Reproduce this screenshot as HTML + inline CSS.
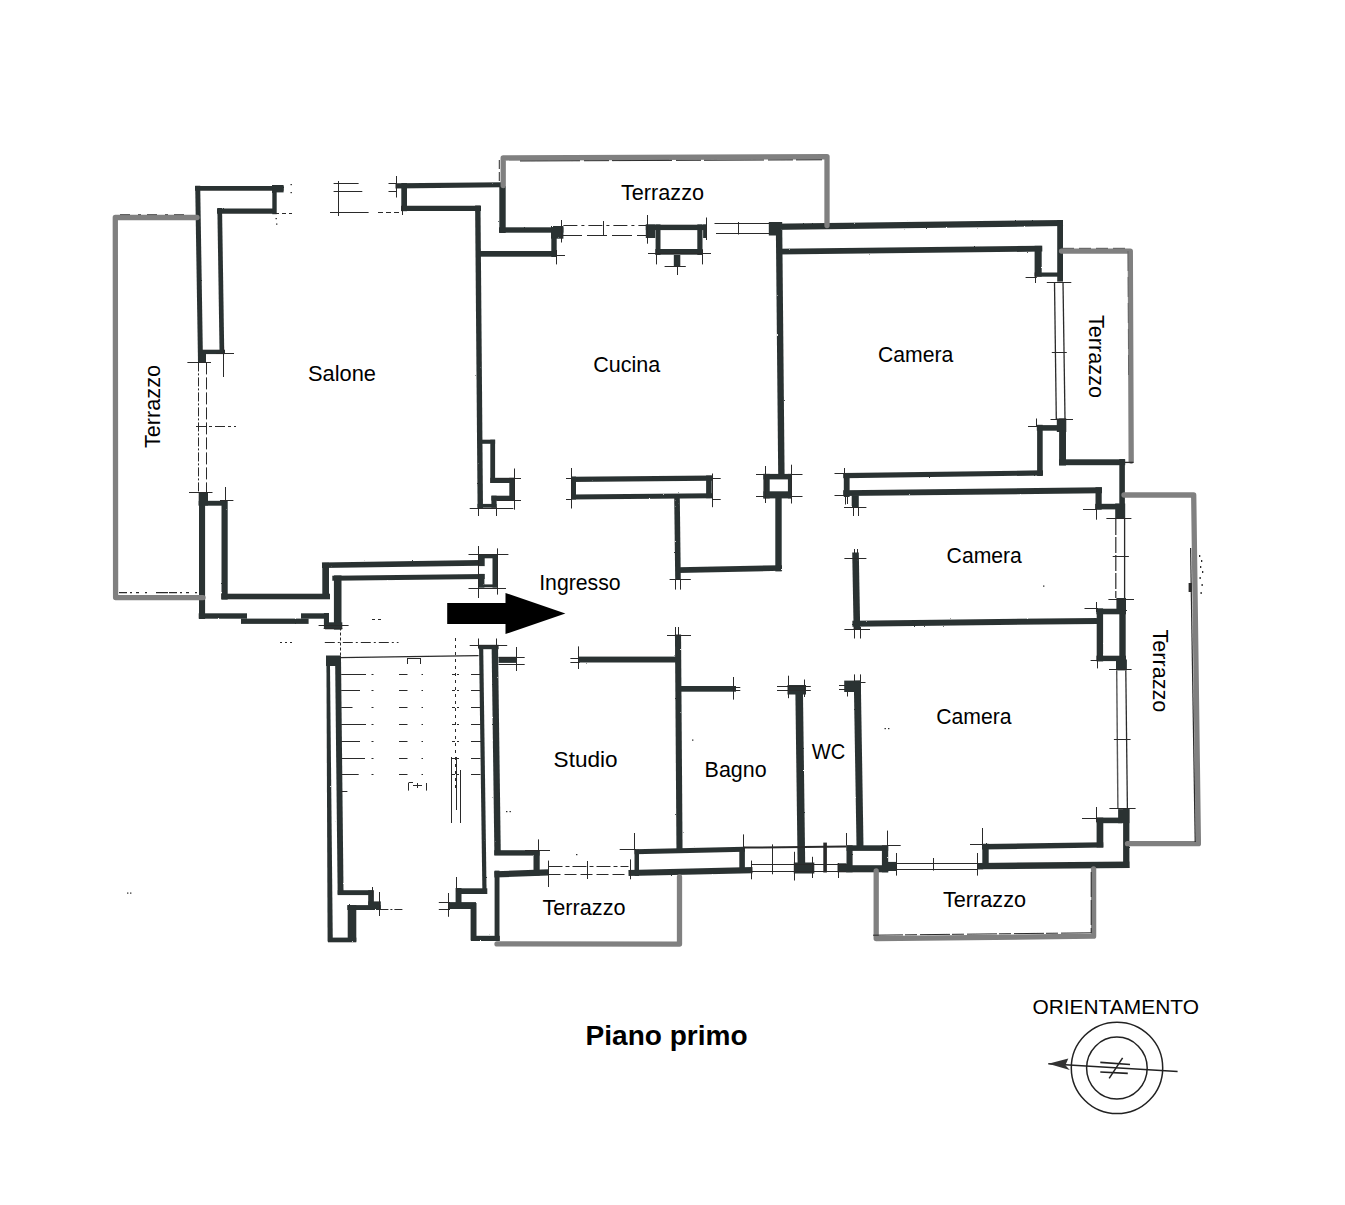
<!DOCTYPE html>
<html><head><meta charset="utf-8"><title>Piano primo</title>
<style>
html,body{margin:0;padding:0;background:#fff;}
body{width:1345px;height:1205px;overflow:hidden;}
svg{display:block;}
text{font-family:"Liberation Sans",sans-serif;fill:#000;}
</style></head><body>
<svg width="1345" height="1205" viewBox="0 0 1345 1205">
<defs>
<filter id="rough" x="0" y="0" width="100%" height="100%" filterUnits="userSpaceOnUse" primitiveUnits="userSpaceOnUse">
<feTurbulence type="fractalNoise" baseFrequency="0.35" numOctaves="2" seed="7" result="n"/>
<feDisplacementMap in="SourceGraphic" in2="n" scale="1.6" xChannelSelector="R" yChannelSelector="G"/>
</filter>
<filter id="rough2" x="0" y="0" width="100%" height="100%" filterUnits="userSpaceOnUse" primitiveUnits="userSpaceOnUse">
<feTurbulence type="fractalNoise" baseFrequency="0.5" numOctaves="1" seed="3" result="n"/>
<feDisplacementMap in="SourceGraphic" in2="n" scale="0.9" xChannelSelector="R" yChannelSelector="G"/>
</filter>
</defs>
<rect width="1345" height="1205" fill="#fff"/>
<g filter="url(#rough)">
<line x1="195.0" y1="188.4" x2="283.6" y2="188.4" stroke="#2c3333" stroke-width="4.9"/>
<line x1="197.7" y1="185.7" x2="200.5" y2="362.0" stroke="#2c3333" stroke-width="5.0"/>
<line x1="217.0" y1="211.1" x2="275.0" y2="211.1" stroke="#2c3333" stroke-width="5.4"/>
<line x1="219.7" y1="208.0" x2="221.9" y2="352.0" stroke="#2c3333" stroke-width="4.7"/>
<rect x="272.3" y="185.7" width="4.4" height="28.5" fill="#2c3333"/>
<rect x="272.0" y="185.0" width="11.6" height="7.4" fill="#2c3333"/>
<rect x="199.0" y="349.7" width="26.0" height="4.4" fill="#2c3333"/>
<rect x="198.0" y="350.0" width="8.0" height="12.4" fill="#2c3333"/>
<line x1="395.5" y1="185.9" x2="502.0" y2="184.8" stroke="#2c3333" stroke-width="5.1000000000000005"/>
<rect x="401.3" y="183.0" width="5.7" height="28.2" fill="#2c3333"/>
<line x1="401.0" y1="208.4" x2="481.0" y2="208.4" stroke="#2c3333" stroke-width="5.1000000000000005"/>
<line x1="477.8" y1="205.5" x2="480.3" y2="508.0" stroke="#2c3333" stroke-width="5.4"/>
<rect x="499.3" y="186.0" width="6.4" height="47.0" fill="#2c3333"/>
<rect x="499.0" y="227.3" width="64.4" height="5.4" fill="#2c3333"/>
<rect x="551.0" y="226.0" width="12.4" height="12.7" fill="#2c3333"/>
<rect x="551.3" y="226.0" width="5.4" height="31.0" fill="#2c3333"/>
<rect x="479.0" y="251.0" width="78.0" height="5.7" fill="#2c3333"/>
<rect x="645.8" y="224.7" width="61.2" height="5.4" fill="#2c3333"/>
<rect x="645.8" y="224.4" width="9.5" height="13.6" fill="#2c3333"/>
<rect x="703.1" y="224.4" width="3.6" height="13.6" fill="#2c3333"/>
<rect x="655.6" y="224.4" width="4.9" height="30.6" fill="#2c3333"/>
<rect x="697.3" y="224.4" width="5.2" height="30.6" fill="#2c3333"/>
<rect x="655.3" y="249.0" width="47.5" height="5.7" fill="#2c3333"/>
<rect x="673.8" y="255.0" width="6.5" height="11.0" fill="#2c3333"/>
<rect x="768.8" y="222.0" width="12.8" height="13.5" fill="#2c3333"/>
<line x1="779.0" y1="222.0" x2="781.4" y2="475.0" stroke="#2c3333" stroke-width="6.4"/>
<line x1="769.5" y1="226.9" x2="1063.0" y2="223.0" stroke="#2c3333" stroke-width="6.2"/>
<line x1="777.0" y1="251.6" x2="1042.3" y2="248.7" stroke="#2c3333" stroke-width="5.8"/>
<rect x="1057.2" y="220.0" width="5.8" height="61.6" fill="#2c3333"/>
<rect x="1034.6" y="245.8" width="7.1" height="30.9" fill="#2c3333"/>
<rect x="1034.6" y="272.5" width="28.4" height="4.2" fill="#2c3333"/>
<rect x="1056.8" y="418.5" width="9.5" height="13.5" fill="#2c3333"/>
<rect x="1036.8" y="425.1" width="21.2" height="5.6" fill="#2c3333"/>
<rect x="1037.1" y="424.8" width="5.6" height="51.2" fill="#2c3333"/>
<rect x="1059.1" y="418.5" width="6.9" height="47.0" fill="#2c3333"/>
<rect x="1059.0" y="459.3" width="66.2" height="5.9" fill="#2c3333"/>
<rect x="1119.3" y="459.0" width="5.6" height="60.0" fill="#2c3333"/>
<rect x="1115.2" y="503.5" width="10.0" height="15.5" fill="#2c3333"/>
<line x1="843.2" y1="475.7" x2="1043.0" y2="472.9" stroke="#2c3333" stroke-width="5.2"/>
<line x1="843.2" y1="493.1" x2="1102.0" y2="490.3" stroke="#2c3333" stroke-width="5.9"/>
<rect x="843.8" y="473.0" width="5.8" height="24.0" fill="#2c3333"/>
<rect x="851.7" y="495.2" width="7.1" height="12.6" fill="#2c3333"/>
<rect x="1095.5" y="487.2" width="6.2" height="22.5" fill="#2c3333"/>
<rect x="1095.2" y="503.8" width="23.8" height="5.6" fill="#2c3333"/>
<rect x="1116.4" y="598.0" width="9.6" height="15.4" fill="#2c3333"/>
<rect x="1096.4" y="608.7" width="29.6" height="5.6" fill="#2c3333"/>
<rect x="1096.4" y="655.7" width="29.6" height="5.4" fill="#2c3333"/>
<rect x="1096.7" y="608.4" width="6.4" height="53.0" fill="#2c3333"/>
<rect x="1119.3" y="608.4" width="6.4" height="53.0" fill="#2c3333"/>
<rect x="1116.0" y="659.5" width="10.9" height="10.9" fill="#2c3333"/>
<line x1="852.4" y1="623.8" x2="1097.0" y2="620.9" stroke="#2c3333" stroke-width="6"/>
<line x1="855.5" y1="552.5" x2="856.9" y2="629.0" stroke="#2c3333" stroke-width="6.6"/>
<rect x="1118.1" y="809.1" width="11.3" height="14.1" fill="#2c3333"/>
<rect x="1096.6" y="817.6" width="25.4" height="5.6" fill="#2c3333"/>
<rect x="1096.6" y="817.6" width="6.7" height="29.9" fill="#2c3333"/>
<line x1="982.0" y1="846.8" x2="1103.3" y2="844.9" stroke="#2c3333" stroke-width="5.4"/>
<rect x="1123.1" y="809.0" width="6.3" height="59.0" fill="#2c3333"/>
<line x1="977.5" y1="866.1" x2="1129.4" y2="864.8" stroke="#2c3333" stroke-width="6.4"/>
<rect x="982.3" y="843.8" width="6.4" height="25.0" fill="#2c3333"/>
<rect x="977.0" y="863.0" width="6.2" height="6.3" fill="#2c3333"/>
<line x1="857.3" y1="680.6" x2="860.0" y2="846.0" stroke="#2c3333" stroke-width="7"/>
<rect x="844.2" y="680.6" width="16.8" height="11.4" fill="#2c3333"/>
<rect x="846.5" y="845.3" width="41.7" height="5.6" fill="#2c3333"/>
<rect x="846.5" y="865.2" width="41.7" height="7.1" fill="#2c3333"/>
<rect x="846.5" y="845.3" width="6.1" height="27.0" fill="#2c3333"/>
<rect x="881.9" y="845.3" width="6.3" height="27.0" fill="#2c3333"/>
<rect x="837.5" y="863.3" width="9.5" height="9.0" fill="#2c3333"/>
<rect x="888.0" y="861.9" width="8.9" height="9.1" fill="#2c3333"/>
<line x1="799.1" y1="687.0" x2="801.5" y2="872.0" stroke="#2c3333" stroke-width="7.6"/>
<rect x="787.5" y="685.0" width="18.5" height="9.5" fill="#2c3333"/>
<rect x="793.8" y="862.5" width="20.5" height="11.0" fill="#2c3333"/>
<line x1="634.5" y1="851.7" x2="744.9" y2="849.2" stroke="#2c3333" stroke-width="4.9"/>
<line x1="628.5" y1="873.0" x2="752.5" y2="870.2" stroke="#2c3333" stroke-width="6.2"/>
<rect x="634.5" y="849.5" width="4.5" height="26.5" fill="#2c3333"/>
<rect x="739.3" y="847.0" width="5.6" height="26.0" fill="#2c3333"/>
<line x1="678.0" y1="634.6" x2="679.5" y2="849.4" stroke="#2c3333" stroke-width="6.1000000000000005"/>
<rect x="681.0" y="686.0" width="55.0" height="5.7" fill="#2c3333"/>
<rect x="578.4" y="656.6" width="97.6" height="5.9" fill="#2c3333"/>
<line x1="571.0" y1="479.3" x2="712.0" y2="478.1" stroke="#2c3333" stroke-width="5.2"/>
<line x1="571.0" y1="497.0" x2="712.0" y2="495.7" stroke="#2c3333" stroke-width="4.9"/>
<rect x="571.0" y="476.6" width="5.0" height="22.9" fill="#2c3333"/>
<rect x="706.1" y="475.5" width="5.6" height="22.7" fill="#2c3333"/>
<line x1="677.0" y1="497.0" x2="678.0" y2="579.6" stroke="#2c3333" stroke-width="5.6"/>
<line x1="678.0" y1="570.1" x2="782.0" y2="568.0" stroke="#2c3333" stroke-width="5.6000000000000005"/>
<rect x="775.3" y="497.2" width="6.4" height="74.2" fill="#2c3333"/>
<rect x="763.4" y="473.9" width="28.4" height="5.5" fill="#2c3333"/>
<rect x="763.4" y="491.3" width="28.4" height="7.1" fill="#2c3333"/>
<rect x="763.4" y="473.9" width="6.3" height="24.5" fill="#2c3333"/>
<rect x="787.9" y="473.9" width="3.9" height="24.5" fill="#2c3333"/>
<rect x="477.5" y="439.7" width="17.6" height="4.1" fill="#2c3333"/>
<rect x="490.3" y="439.7" width="4.8" height="43.3" fill="#2c3333"/>
<rect x="490.3" y="477.8" width="24.6" height="5.2" fill="#2c3333"/>
<rect x="509.3" y="477.8" width="5.6" height="22.8" fill="#2c3333"/>
<rect x="491.4" y="495.7" width="23.5" height="4.9" fill="#2c3333"/>
<rect x="491.4" y="495.7" width="5.2" height="12.0" fill="#2c3333"/>
<rect x="477.5" y="503.9" width="19.1" height="3.8" fill="#2c3333"/>
<rect x="199.0" y="492.2" width="6.1" height="126.8" fill="#2c3333"/>
<rect x="198.7" y="492.2" width="9.3" height="13.3" fill="#2c3333"/>
<rect x="198.7" y="500.8" width="27.5" height="4.9" fill="#2c3333"/>
<rect x="221.5" y="500.5" width="6.2" height="99.1" fill="#2c3333"/>
<rect x="221.2" y="593.7" width="108.8" height="5.6" fill="#2c3333"/>
<rect x="198.7" y="613.3" width="48.3" height="5.4" fill="#2c3333"/>
<rect x="241.0" y="618.6" width="67.6" height="5.3" fill="#2c3333"/>
<rect x="301.0" y="613.3" width="27.6" height="5.4" fill="#2c3333"/>
<rect x="323.9" y="613.0" width="5.1" height="15.4" fill="#2c3333"/>
<rect x="322.3" y="562.7" width="6.7" height="36.3" fill="#2c3333"/>
<line x1="322.0" y1="565.3" x2="479.7" y2="562.9" stroke="#2c3333" stroke-width="5.6000000000000005"/>
<line x1="332.3" y1="578.2" x2="484.7" y2="576.6" stroke="#2c3333" stroke-width="5.0"/>
<rect x="333.9" y="575.4" width="7.6" height="54.2" fill="#2c3333"/>
<rect x="324.8" y="622.3" width="17.5" height="7.0" fill="#2c3333"/>
<rect x="478.0" y="554.5" width="19.6" height="3.8" fill="#2c3333"/>
<rect x="478.0" y="584.4" width="19.6" height="2.9" fill="#2c3333"/>
<rect x="492.5" y="554.2" width="4.8" height="33.4" fill="#2c3333"/>
<rect x="478.0" y="554.2" width="6.7" height="11.9" fill="#2c3333"/>
<rect x="478.3" y="573.9" width="6.1" height="13.7" fill="#2c3333"/>
<polygon points="326.4,656.0 329.9,656.0 332.8,941.5 327.6,941.5" fill="#2c3333"/>
<line x1="338.1" y1="662.0" x2="340.6" y2="894.5" stroke="#2c3333" stroke-width="5.9"/>
<rect x="326.0" y="655.5" width="15.0" height="10.5" fill="#2c3333"/>
<rect x="337.7" y="890.2" width="34.7" height="4.9" fill="#2c3333"/>
<rect x="368.2" y="890.2" width="5.7" height="14.8" fill="#2c3333"/>
<rect x="368.2" y="901.4" width="12.6" height="8.6" fill="#2c3333"/>
<rect x="347.3" y="905.1" width="33.5" height="4.9" fill="#2c3333"/>
<rect x="347.7" y="905.1" width="8.6" height="36.4" fill="#2c3333"/>
<rect x="328.0" y="937.6" width="28.3" height="4.7" fill="#2c3333"/>
<line x1="481.1" y1="645.0" x2="484.5" y2="893.0" stroke="#2c3333" stroke-width="4.2"/>
<line x1="494.8" y1="645.0" x2="497.6" y2="855.0" stroke="#2c3333" stroke-width="6.4"/>
<rect x="478.6" y="644.8" width="20.0" height="4.4" fill="#2c3333"/>
<rect x="498.6" y="656.8" width="17.4" height="6.1" fill="#2c3333"/>
<rect x="494.3" y="850.2" width="45.3" height="5.4" fill="#2c3333"/>
<rect x="533.5" y="850.2" width="6.2" height="25.4" fill="#2c3333"/>
<line x1="494.3" y1="874.4" x2="548.5" y2="872.4" stroke="#2c3333" stroke-width="6.2"/>
<rect x="494.6" y="870.6" width="4.9" height="69.9" fill="#2c3333"/>
<rect x="456.0" y="888.3" width="31.3" height="5.7" fill="#2c3333"/>
<rect x="455.6" y="888.0" width="5.9" height="17.0" fill="#2c3333"/>
<rect x="448.6" y="902.1" width="27.4" height="6.9" fill="#2c3333"/>
<rect x="470.6" y="903.0" width="5.9" height="37.5" fill="#2c3333"/>
<rect x="471.0" y="935.8" width="28.8" height="5.2" fill="#2c3333"/>
</g>
<polyline points="197.0,217.5 115.3,217.5 115.6,597.6 203.0,597.6" fill="none" stroke="#808080" stroke-width="5.3" stroke-linejoin="round" stroke-linecap="round"/>
<polyline points="503.2,185.5 503.2,158.0 827.0,156.6 827.0,225.5" fill="none" stroke="#808080" stroke-width="5.3" stroke-linejoin="round" stroke-linecap="round"/>
<polyline points="1061.5,251.1 1130.3,251.1 1131.2,461.0" fill="none" stroke="#808080" stroke-width="5.3" stroke-linejoin="round" stroke-linecap="round"/>
<polyline points="1124.0,495.0 1193.7,495.0 1198.4,843.7 1127.5,843.7" fill="none" stroke="#808080" stroke-width="5.3" stroke-linejoin="round" stroke-linecap="round"/>
<polyline points="876.2,871.0 876.2,938.6 1093.6,936.2 1093.6,869.0" fill="none" stroke="#808080" stroke-width="5.3" stroke-linejoin="round" stroke-linecap="round"/>
<polyline points="497.0,943.9 679.5,944.1 679.5,877.0" fill="none" stroke="#808080" stroke-width="5.3" stroke-linejoin="round" stroke-linecap="round"/>
<polygon points="447.2,603.0 505.5,603.0 505.5,593.0 565.4,613.4 505.5,634.0 505.5,624.0 447.2,624.0" fill="#000"/>
<g filter="url(#rough2)">
<line x1="187.4" y1="362.5" x2="211.0" y2="362.5" stroke="#2a2a2a" stroke-width="1"/>
<line x1="223.5" y1="345.0" x2="223.5" y2="377.0" stroke="#2a2a2a" stroke-width="1"/>
<line x1="216.0" y1="353.5" x2="234.0" y2="353.5" stroke="#2a2a2a" stroke-width="1"/>
<line x1="275.0" y1="213.5" x2="292.0" y2="213.5" stroke="#2a2a2a" stroke-width="1" stroke-dasharray="4 3"/>
<line x1="198.5" y1="362.4" x2="198.5" y2="492.0" stroke="#2a2a2a" stroke-width="1" stroke-dasharray="9 2 2 2"/>
<line x1="206.5" y1="362.4" x2="206.5" y2="492.0" stroke="#2a2a2a" stroke-width="1" stroke-dasharray="12 3"/>
<line x1="196.0" y1="426.5" x2="236.0" y2="426.5" stroke="#2a2a2a" stroke-width="1" stroke-dasharray="10 3 3 3"/>
<line x1="333.6" y1="183.5" x2="358.6" y2="183.5" stroke="#2a2a2a" stroke-width="1"/>
<line x1="333.6" y1="191.5" x2="362.3" y2="191.5" stroke="#2a2a2a" stroke-width="1"/>
<line x1="330.0" y1="212.5" x2="368.6" y2="212.5" stroke="#2a2a2a" stroke-width="1"/>
<line x1="338.5" y1="181.0" x2="338.5" y2="216.0" stroke="#2a2a2a" stroke-width="1"/>
<line x1="396.5" y1="176.0" x2="396.5" y2="197.5" stroke="#2a2a2a" stroke-width="1"/>
<line x1="388.5" y1="183.5" x2="397.0" y2="183.5" stroke="#2a2a2a" stroke-width="1"/>
<line x1="388.5" y1="191.5" x2="397.0" y2="191.5" stroke="#2a2a2a" stroke-width="1"/>
<line x1="402.5" y1="205.0" x2="402.5" y2="215.0" stroke="#2a2a2a" stroke-width="1"/>
<line x1="378.0" y1="212.5" x2="401.0" y2="212.5" stroke="#2a2a2a" stroke-width="1" stroke-dasharray="5 3"/>
<line x1="563.4" y1="225.5" x2="646.0" y2="225.5" stroke="#2a2a2a" stroke-width="1" stroke-dasharray="14 4 3 4"/>
<line x1="562.0" y1="235.5" x2="646.0" y2="235.5" stroke="#2a2a2a" stroke-width="1" stroke-dasharray="20 5"/>
<line x1="603.5" y1="221.0" x2="603.5" y2="235.0" stroke="#2a2a2a" stroke-width="1"/>
<line x1="561.5" y1="220.0" x2="561.5" y2="242.5" stroke="#2a2a2a" stroke-width="1"/>
<line x1="556.5" y1="250.0" x2="556.5" y2="264.4" stroke="#2a2a2a" stroke-width="1"/>
<line x1="557.0" y1="255.5" x2="565.0" y2="255.5" stroke="#2a2a2a" stroke-width="1"/>
<line x1="648.0" y1="253.5" x2="711.0" y2="253.5" stroke="#2a2a2a" stroke-width="1"/>
<line x1="647.5" y1="215.0" x2="647.5" y2="243.7" stroke="#2a2a2a" stroke-width="1"/>
<line x1="706.5" y1="217.5" x2="706.5" y2="240.0" stroke="#2a2a2a" stroke-width="1"/>
<line x1="656.5" y1="250.0" x2="656.5" y2="264.4" stroke="#2a2a2a" stroke-width="1"/>
<line x1="702.5" y1="250.0" x2="702.5" y2="264.4" stroke="#2a2a2a" stroke-width="1"/>
<line x1="664.6" y1="266.5" x2="685.8" y2="266.5" stroke="#2a2a2a" stroke-width="1"/>
<line x1="677.5" y1="266.0" x2="677.5" y2="275.0" stroke="#2a2a2a" stroke-width="1"/>
<line x1="714.5" y1="223.5" x2="769.5" y2="223.5" stroke="#2a2a2a" stroke-width="1"/>
<line x1="716.0" y1="233.5" x2="769.5" y2="233.5" stroke="#2a2a2a" stroke-width="1"/>
<line x1="738.5" y1="222.0" x2="738.5" y2="234.5" stroke="#2a2a2a" stroke-width="1"/>
<line x1="1025.6" y1="277.5" x2="1036.8" y2="277.5" stroke="#2a2a2a" stroke-width="1"/>
<line x1="1035.5" y1="272.0" x2="1035.5" y2="283.0" stroke="#2a2a2a" stroke-width="1"/>
<line x1="1046.8" y1="282.5" x2="1071.3" y2="282.5" stroke="#2a2a2a" stroke-width="1"/>
<line x1="1054.5" y1="282.0" x2="1056.3" y2="419.0" stroke="#2a2a2a" stroke-width="1.3"/>
<line x1="1063.0" y1="282.0" x2="1065.0" y2="419.0" stroke="#2a2a2a" stroke-width="1.3"/>
<line x1="1051.8" y1="352.5" x2="1066.8" y2="352.5" stroke="#2a2a2a" stroke-width="1"/>
<line x1="1050.5" y1="419.5" x2="1073.0" y2="419.5" stroke="#2a2a2a" stroke-width="1"/>
<line x1="1028.0" y1="426.5" x2="1038.0" y2="426.5" stroke="#2a2a2a" stroke-width="1"/>
<line x1="1036.5" y1="418.5" x2="1036.5" y2="427.0" stroke="#2a2a2a" stroke-width="1"/>
<line x1="844.0" y1="507.5" x2="866.4" y2="507.5" stroke="#2a2a2a" stroke-width="1"/>
<line x1="853.5" y1="507.0" x2="853.5" y2="516.0" stroke="#2a2a2a" stroke-width="1"/>
<line x1="858.5" y1="507.0" x2="858.5" y2="516.0" stroke="#2a2a2a" stroke-width="1"/>
<line x1="845.5" y1="497.0" x2="845.5" y2="504.5" stroke="#2a2a2a" stroke-width="1"/>
<line x1="847.5" y1="497.0" x2="847.5" y2="504.0" stroke="#2a2a2a" stroke-width="1"/>
<line x1="834.5" y1="473.5" x2="846.0" y2="473.5" stroke="#2a2a2a" stroke-width="1"/>
<line x1="834.5" y1="495.5" x2="846.0" y2="495.5" stroke="#2a2a2a" stroke-width="1"/>
<line x1="844.5" y1="468.0" x2="844.5" y2="480.0" stroke="#2a2a2a" stroke-width="1"/>
<line x1="1083.0" y1="509.5" x2="1097.0" y2="509.5" stroke="#2a2a2a" stroke-width="1"/>
<line x1="1096.5" y1="508.5" x2="1096.5" y2="519.7" stroke="#2a2a2a" stroke-width="1"/>
<line x1="1106.4" y1="518.5" x2="1131.4" y2="518.5" stroke="#2a2a2a" stroke-width="1"/>
<line x1="1115.8" y1="519.0" x2="1115.8" y2="598.0" stroke="#2a2a2a" stroke-width="1.2" stroke-dasharray="16 2"/>
<line x1="1124.6" y1="519.0" x2="1124.6" y2="598.0" stroke="#2a2a2a" stroke-width="1.3"/>
<line x1="1112.7" y1="556.5" x2="1128.9" y2="556.5" stroke="#2a2a2a" stroke-width="1"/>
<line x1="1108.4" y1="599.5" x2="1134.0" y2="599.5" stroke="#2a2a2a" stroke-width="1"/>
<line x1="1084.5" y1="608.5" x2="1098.0" y2="608.5" stroke="#2a2a2a" stroke-width="1"/>
<line x1="1096.5" y1="602.0" x2="1096.5" y2="612.0" stroke="#2a2a2a" stroke-width="1"/>
<line x1="1090.6" y1="660.5" x2="1098.0" y2="660.5" stroke="#2a2a2a" stroke-width="1"/>
<line x1="1097.5" y1="655.0" x2="1097.5" y2="668.4" stroke="#2a2a2a" stroke-width="1"/>
<line x1="1109.0" y1="669.5" x2="1131.6" y2="669.5" stroke="#2a2a2a" stroke-width="1"/>
<line x1="1116.7" y1="670.4" x2="1117.9" y2="808.9" stroke="#555" stroke-width="1.4"/>
<line x1="1125.8" y1="670.4" x2="1127.4" y2="808.9" stroke="#2a2a2a" stroke-width="1.3"/>
<line x1="1113.9" y1="739.5" x2="1130.6" y2="739.5" stroke="#2a2a2a" stroke-width="1"/>
<line x1="1109.4" y1="808.5" x2="1135.6" y2="808.5" stroke="#2a2a2a" stroke-width="1"/>
<line x1="1096.5" y1="807.0" x2="1096.5" y2="822.0" stroke="#2a2a2a" stroke-width="1"/>
<line x1="1082.0" y1="818.5" x2="1098.0" y2="818.5" stroke="#2a2a2a" stroke-width="1"/>
<line x1="844.4" y1="558.5" x2="866.4" y2="558.5" stroke="#2a2a2a" stroke-width="1"/>
<line x1="854.5" y1="549.0" x2="854.5" y2="553.0" stroke="#2a2a2a" stroke-width="1"/>
<line x1="857.5" y1="549.0" x2="857.5" y2="553.0" stroke="#2a2a2a" stroke-width="1"/>
<line x1="844.4" y1="629.5" x2="870.0" y2="629.5" stroke="#2a2a2a" stroke-width="1"/>
<line x1="854.5" y1="627.0" x2="854.5" y2="638.5" stroke="#2a2a2a" stroke-width="1"/>
<line x1="860.5" y1="627.0" x2="860.5" y2="638.5" stroke="#2a2a2a" stroke-width="1"/>
<line x1="982.5" y1="828.0" x2="982.5" y2="845.6" stroke="#2a2a2a" stroke-width="1"/>
<line x1="970.0" y1="844.5" x2="983.2" y2="844.5" stroke="#2a2a2a" stroke-width="1"/>
<line x1="977.5" y1="853.0" x2="977.5" y2="875.6" stroke="#2a2a2a" stroke-width="1"/>
<line x1="897.0" y1="863.5" x2="977.5" y2="863.5" stroke="#2a2a2a" stroke-width="1"/>
<line x1="897.0" y1="869.5" x2="977.5" y2="869.5" stroke="#2a2a2a" stroke-width="1"/>
<line x1="933.5" y1="858.0" x2="933.5" y2="870.6" stroke="#2a2a2a" stroke-width="1"/>
<line x1="846.5" y1="833.0" x2="846.5" y2="845.6" stroke="#2a2a2a" stroke-width="1"/>
<line x1="887.5" y1="830.6" x2="887.5" y2="845.6" stroke="#2a2a2a" stroke-width="1"/>
<line x1="887.0" y1="845.5" x2="900.7" y2="845.5" stroke="#2a2a2a" stroke-width="1"/>
<line x1="838.5" y1="863.0" x2="838.5" y2="878.0" stroke="#2a2a2a" stroke-width="1"/>
<line x1="896.5" y1="853.0" x2="896.5" y2="875.6" stroke="#2a2a2a" stroke-width="1"/>
<line x1="743.7" y1="847.6" x2="846.5" y2="846.6" stroke="#2a2a2a" stroke-width="2"/>
<line x1="751.0" y1="864.5" x2="846.0" y2="864.5" stroke="#2a2a2a" stroke-width="1"/>
<line x1="751.0" y1="871.5" x2="846.0" y2="871.5" stroke="#2a2a2a" stroke-width="1"/>
<line x1="772.5" y1="844.4" x2="772.5" y2="874.3" stroke="#2a2a2a" stroke-width="1"/>
<rect x="823.3" y="842.6" width="3.6" height="29.9" fill="#2a2a2a"/>
<line x1="794.5" y1="851.8" x2="794.5" y2="880.5" stroke="#2a2a2a" stroke-width="1"/>
<line x1="812.5" y1="856.8" x2="812.5" y2="878.0" stroke="#2a2a2a" stroke-width="1"/>
<line x1="777.0" y1="686.5" x2="810.8" y2="686.5" stroke="#2a2a2a" stroke-width="1"/>
<line x1="777.0" y1="690.5" x2="810.8" y2="690.5" stroke="#2a2a2a" stroke-width="1"/>
<line x1="788.5" y1="675.7" x2="788.5" y2="698.2" stroke="#2a2a2a" stroke-width="1"/>
<line x1="804.5" y1="679.5" x2="804.5" y2="697.0" stroke="#2a2a2a" stroke-width="1"/>
<line x1="839.0" y1="685.5" x2="845.0" y2="685.5" stroke="#2a2a2a" stroke-width="1"/>
<line x1="839.0" y1="689.5" x2="845.0" y2="689.5" stroke="#2a2a2a" stroke-width="1"/>
<line x1="854.5" y1="674.4" x2="854.5" y2="681.0" stroke="#2a2a2a" stroke-width="1"/>
<line x1="860.5" y1="674.4" x2="860.5" y2="681.0" stroke="#2a2a2a" stroke-width="1"/>
<line x1="861.0" y1="682.5" x2="865.5" y2="682.5" stroke="#2a2a2a" stroke-width="1"/>
<line x1="847.5" y1="692.0" x2="847.5" y2="696.5" stroke="#2a2a2a" stroke-width="1"/>
<line x1="634.5" y1="833.0" x2="634.5" y2="849.0" stroke="#2a2a2a" stroke-width="1"/>
<line x1="619.7" y1="849.5" x2="636.0" y2="849.5" stroke="#2a2a2a" stroke-width="1"/>
<line x1="630.5" y1="859.4" x2="630.5" y2="879.3" stroke="#2a2a2a" stroke-width="1"/>
<line x1="743.5" y1="834.4" x2="743.5" y2="849.4" stroke="#2a2a2a" stroke-width="1"/>
<line x1="751.5" y1="860.6" x2="751.5" y2="879.3" stroke="#2a2a2a" stroke-width="1"/>
<line x1="548.5" y1="866.5" x2="628.5" y2="866.5" stroke="#2a2a2a" stroke-width="1" stroke-dasharray="14 3 4 3"/>
<line x1="548.5" y1="874.5" x2="628.5" y2="874.5" stroke="#2a2a2a" stroke-width="1" stroke-dasharray="12 4"/>
<line x1="587.5" y1="861.0" x2="587.5" y2="879.0" stroke="#2a2a2a" stroke-width="1"/>
<line x1="538.5" y1="839.4" x2="538.5" y2="852.0" stroke="#2a2a2a" stroke-width="1"/>
<line x1="525.0" y1="850.5" x2="550.0" y2="850.5" stroke="#2a2a2a" stroke-width="1"/>
<line x1="548.5" y1="860.6" x2="548.5" y2="887.0" stroke="#2a2a2a" stroke-width="1"/>
<line x1="578.5" y1="646.4" x2="578.5" y2="669.0" stroke="#2a2a2a" stroke-width="1"/>
<line x1="570.4" y1="658.5" x2="579.7" y2="658.5" stroke="#2a2a2a" stroke-width="1"/>
<line x1="570.4" y1="662.5" x2="579.7" y2="662.5" stroke="#2a2a2a" stroke-width="1"/>
<line x1="675.5" y1="627.0" x2="675.5" y2="636.0" stroke="#2a2a2a" stroke-width="1"/>
<line x1="678.5" y1="627.0" x2="678.5" y2="636.0" stroke="#2a2a2a" stroke-width="1"/>
<line x1="667.0" y1="635.5" x2="691.0" y2="635.5" stroke="#2a2a2a" stroke-width="1"/>
<line x1="733.5" y1="677.0" x2="733.5" y2="699.6" stroke="#2a2a2a" stroke-width="1"/>
<line x1="733.5" y1="687.5" x2="740.3" y2="687.5" stroke="#2a2a2a" stroke-width="1"/>
<line x1="733.5" y1="690.5" x2="740.3" y2="690.5" stroke="#2a2a2a" stroke-width="1"/>
<line x1="571.5" y1="468.0" x2="571.5" y2="508.5" stroke="#2a2a2a" stroke-width="1"/>
<line x1="712.5" y1="473.5" x2="712.5" y2="507.2" stroke="#2a2a2a" stroke-width="1"/>
<line x1="566.0" y1="478.5" x2="572.0" y2="478.5" stroke="#2a2a2a" stroke-width="1"/>
<line x1="566.0" y1="499.5" x2="572.0" y2="499.5" stroke="#2a2a2a" stroke-width="1"/>
<line x1="712.0" y1="478.5" x2="720.7" y2="478.5" stroke="#2a2a2a" stroke-width="1"/>
<line x1="712.0" y1="499.5" x2="720.7" y2="499.5" stroke="#2a2a2a" stroke-width="1"/>
<line x1="675.5" y1="579.0" x2="675.5" y2="589.6" stroke="#2a2a2a" stroke-width="1"/>
<line x1="680.5" y1="579.0" x2="680.5" y2="589.6" stroke="#2a2a2a" stroke-width="1"/>
<line x1="669.6" y1="579.5" x2="690.8" y2="579.5" stroke="#2a2a2a" stroke-width="1"/>
<line x1="791.5" y1="464.7" x2="791.5" y2="503.5" stroke="#2a2a2a" stroke-width="1"/>
<line x1="792.0" y1="474.5" x2="802.5" y2="474.5" stroke="#2a2a2a" stroke-width="1"/>
<line x1="792.0" y1="496.5" x2="802.5" y2="496.5" stroke="#2a2a2a" stroke-width="1"/>
<line x1="765.5" y1="466.0" x2="765.5" y2="503.0" stroke="#2a2a2a" stroke-width="1"/>
<line x1="756.0" y1="474.5" x2="764.0" y2="474.5" stroke="#2a2a2a" stroke-width="1"/>
<line x1="756.0" y1="496.5" x2="764.0" y2="496.5" stroke="#2a2a2a" stroke-width="1"/>
<line x1="496.5" y1="478.5" x2="521.0" y2="478.5" stroke="#2a2a2a" stroke-width="1"/>
<line x1="496.5" y1="500.5" x2="521.0" y2="500.5" stroke="#2a2a2a" stroke-width="1"/>
<line x1="469.7" y1="508.5" x2="513.4" y2="508.5" stroke="#2a2a2a" stroke-width="1"/>
<line x1="514.5" y1="468.5" x2="514.5" y2="509.7" stroke="#2a2a2a" stroke-width="1"/>
<line x1="478.5" y1="507.2" x2="478.5" y2="516.0" stroke="#2a2a2a" stroke-width="1"/>
<line x1="496.5" y1="507.2" x2="496.5" y2="516.0" stroke="#2a2a2a" stroke-width="1"/>
<line x1="478.5" y1="546.0" x2="478.5" y2="598.0" stroke="#2a2a2a" stroke-width="1"/>
<line x1="497.5" y1="548.4" x2="497.5" y2="594.6" stroke="#2a2a2a" stroke-width="1"/>
<line x1="468.5" y1="554.5" x2="508.4" y2="554.5" stroke="#2a2a2a" stroke-width="1"/>
<line x1="468.5" y1="588.5" x2="506.0" y2="588.5" stroke="#2a2a2a" stroke-width="1"/>
<line x1="189.0" y1="492.5" x2="212.5" y2="492.5" stroke="#2a2a2a" stroke-width="1"/>
<line x1="225.5" y1="487.0" x2="225.5" y2="502.0" stroke="#2a2a2a" stroke-width="1"/>
<line x1="220.0" y1="500.5" x2="233.4" y2="500.5" stroke="#2a2a2a" stroke-width="1"/>
<line x1="318.6" y1="625.5" x2="348.6" y2="625.5" stroke="#2a2a2a" stroke-width="1"/>
<line x1="323.7" y1="628.5" x2="342.3" y2="628.5" stroke="#2a2a2a" stroke-width="1"/>
<line x1="469.7" y1="645.5" x2="507.2" y2="645.5" stroke="#2a2a2a" stroke-width="1"/>
<line x1="478.5" y1="638.5" x2="478.5" y2="648.4" stroke="#2a2a2a" stroke-width="1"/>
<line x1="496.5" y1="638.5" x2="496.5" y2="648.4" stroke="#2a2a2a" stroke-width="1"/>
<line x1="516.5" y1="647.0" x2="516.5" y2="671.0" stroke="#2a2a2a" stroke-width="1"/>
<line x1="498.5" y1="657.5" x2="524.7" y2="657.5" stroke="#2a2a2a" stroke-width="1"/>
<line x1="498.5" y1="664.5" x2="524.7" y2="664.5" stroke="#2a2a2a" stroke-width="1"/>
<line x1="340.0" y1="657.6" x2="478.6" y2="655.6" stroke="#2a2a2a" stroke-width="1.4"/>
<line x1="324.8" y1="642.5" x2="398.5" y2="642.5" stroke="#2a2a2a" stroke-width="1" stroke-dasharray="10 3 2 3"/>
<line x1="280.0" y1="642.5" x2="293.0" y2="642.5" stroke="#2a2a2a" stroke-width="1" stroke-dasharray="2 3"/>
<line x1="340.5" y1="627.5" x2="340.5" y2="659.0" stroke="#2a2a2a" stroke-width="1" stroke-dasharray="3 2"/>
<rect x="407.0" y="658.0" width="14.0" height="1.0" fill="#2a2a2a"/>
<rect x="407.0" y="658.0" width="1.0" height="6.0" fill="#2a2a2a"/>
<rect x="420.0" y="658.0" width="1.0" height="6.0" fill="#2a2a2a"/>
<line x1="372.0" y1="619.5" x2="382.0" y2="619.5" stroke="#2a2a2a" stroke-width="1" stroke-dasharray="3 3"/>
<line x1="341.2" y1="674.5" x2="366.0" y2="674.5" stroke="#2a2a2a" stroke-width="1"/>
<line x1="371.5" y1="674.5" x2="373.5" y2="674.5" stroke="#2a2a2a" stroke-width="1"/>
<line x1="399.0" y1="674.5" x2="407.5" y2="674.5" stroke="#2a2a2a" stroke-width="1"/>
<line x1="421.5" y1="674.5" x2="423.0" y2="674.5" stroke="#2a2a2a" stroke-width="1"/>
<line x1="452.0" y1="674.5" x2="459.0" y2="674.5" stroke="#2a2a2a" stroke-width="1" stroke-dasharray="3 2"/>
<line x1="471.0" y1="674.5" x2="480.5" y2="674.5" stroke="#2a2a2a" stroke-width="1"/>
<line x1="341.2" y1="690.5" x2="360.0" y2="690.5" stroke="#2a2a2a" stroke-width="1"/>
<line x1="371.5" y1="690.5" x2="373.5" y2="690.5" stroke="#2a2a2a" stroke-width="1"/>
<line x1="399.0" y1="690.5" x2="407.5" y2="690.5" stroke="#2a2a2a" stroke-width="1"/>
<line x1="421.5" y1="690.5" x2="423.0" y2="690.5" stroke="#2a2a2a" stroke-width="1"/>
<line x1="452.0" y1="690.5" x2="459.0" y2="690.5" stroke="#2a2a2a" stroke-width="1" stroke-dasharray="3 2"/>
<line x1="471.0" y1="690.5" x2="480.5" y2="690.5" stroke="#2a2a2a" stroke-width="1"/>
<line x1="341.2" y1="707.5" x2="352.5" y2="707.5" stroke="#2a2a2a" stroke-width="1"/>
<line x1="371.5" y1="707.5" x2="373.5" y2="707.5" stroke="#2a2a2a" stroke-width="1"/>
<line x1="399.0" y1="707.5" x2="407.5" y2="707.5" stroke="#2a2a2a" stroke-width="1"/>
<line x1="421.5" y1="707.5" x2="423.0" y2="707.5" stroke="#2a2a2a" stroke-width="1"/>
<line x1="452.0" y1="707.5" x2="459.0" y2="707.5" stroke="#2a2a2a" stroke-width="1" stroke-dasharray="3 2"/>
<line x1="471.0" y1="707.5" x2="480.5" y2="707.5" stroke="#2a2a2a" stroke-width="1"/>
<line x1="341.2" y1="724.5" x2="366.0" y2="724.5" stroke="#2a2a2a" stroke-width="1"/>
<line x1="371.5" y1="724.5" x2="373.5" y2="724.5" stroke="#2a2a2a" stroke-width="1"/>
<line x1="399.0" y1="724.5" x2="407.5" y2="724.5" stroke="#2a2a2a" stroke-width="1"/>
<line x1="421.5" y1="724.5" x2="423.0" y2="724.5" stroke="#2a2a2a" stroke-width="1"/>
<line x1="452.0" y1="724.5" x2="459.0" y2="724.5" stroke="#2a2a2a" stroke-width="1" stroke-dasharray="3 2"/>
<line x1="471.0" y1="724.5" x2="480.5" y2="724.5" stroke="#2a2a2a" stroke-width="1"/>
<line x1="341.2" y1="741.5" x2="360.0" y2="741.5" stroke="#2a2a2a" stroke-width="1"/>
<line x1="371.5" y1="741.5" x2="373.5" y2="741.5" stroke="#2a2a2a" stroke-width="1"/>
<line x1="399.0" y1="741.5" x2="407.5" y2="741.5" stroke="#2a2a2a" stroke-width="1"/>
<line x1="421.5" y1="741.5" x2="423.0" y2="741.5" stroke="#2a2a2a" stroke-width="1"/>
<line x1="452.0" y1="741.5" x2="459.0" y2="741.5" stroke="#2a2a2a" stroke-width="1" stroke-dasharray="3 2"/>
<line x1="471.0" y1="741.5" x2="480.5" y2="741.5" stroke="#2a2a2a" stroke-width="1"/>
<line x1="341.2" y1="758.5" x2="365.0" y2="758.5" stroke="#2a2a2a" stroke-width="1"/>
<line x1="371.5" y1="758.5" x2="373.5" y2="758.5" stroke="#2a2a2a" stroke-width="1"/>
<line x1="399.0" y1="758.5" x2="407.5" y2="758.5" stroke="#2a2a2a" stroke-width="1"/>
<line x1="421.5" y1="758.5" x2="423.0" y2="758.5" stroke="#2a2a2a" stroke-width="1"/>
<line x1="452.0" y1="758.5" x2="459.0" y2="758.5" stroke="#2a2a2a" stroke-width="1" stroke-dasharray="3 2"/>
<line x1="471.0" y1="758.5" x2="480.5" y2="758.5" stroke="#2a2a2a" stroke-width="1"/>
<line x1="341.2" y1="774.5" x2="358.7" y2="774.5" stroke="#2a2a2a" stroke-width="1"/>
<line x1="371.5" y1="774.5" x2="373.5" y2="774.5" stroke="#2a2a2a" stroke-width="1"/>
<line x1="399.0" y1="774.5" x2="407.5" y2="774.5" stroke="#2a2a2a" stroke-width="1"/>
<line x1="421.5" y1="774.5" x2="423.0" y2="774.5" stroke="#2a2a2a" stroke-width="1"/>
<line x1="452.0" y1="774.5" x2="459.0" y2="774.5" stroke="#2a2a2a" stroke-width="1" stroke-dasharray="3 2"/>
<line x1="471.0" y1="774.5" x2="480.5" y2="774.5" stroke="#2a2a2a" stroke-width="1"/>
<line x1="341.2" y1="791.5" x2="347.4" y2="791.5" stroke="#2a2a2a" stroke-width="1"/>
<line x1="455.5" y1="638.0" x2="455.5" y2="792.0" stroke="#2a2a2a" stroke-width="1" stroke-dasharray="3 4"/>
<line x1="451.5" y1="757.0" x2="451.5" y2="823.0" stroke="#2a2a2a" stroke-width="1"/>
<line x1="456.5" y1="757.0" x2="456.5" y2="810.0" stroke="#2a2a2a" stroke-width="1"/>
<line x1="460.5" y1="770.0" x2="460.5" y2="823.0" stroke="#2a2a2a" stroke-width="1"/>
<line x1="408.6" y1="782.5" x2="413.0" y2="782.5" stroke="#2a2a2a" stroke-width="1"/>
<line x1="408.5" y1="783.0" x2="408.5" y2="790.6" stroke="#2a2a2a" stroke-width="1"/>
<line x1="417.5" y1="783.0" x2="417.5" y2="788.0" stroke="#2a2a2a" stroke-width="1"/>
<line x1="426.5" y1="783.0" x2="426.5" y2="790.6" stroke="#2a2a2a" stroke-width="1"/>
<line x1="413.0" y1="785.5" x2="422.0" y2="785.5" stroke="#2a2a2a" stroke-width="1"/>
<line x1="372.5" y1="887.0" x2="372.5" y2="897.0" stroke="#2a2a2a" stroke-width="1"/>
<line x1="379.5" y1="892.0" x2="379.5" y2="916.0" stroke="#2a2a2a" stroke-width="1"/>
<line x1="380.4" y1="909.5" x2="403.6" y2="909.5" stroke="#2a2a2a" stroke-width="1" stroke-dasharray="8 2 2 2"/>
<line x1="456.5" y1="877.0" x2="456.5" y2="892.0" stroke="#2a2a2a" stroke-width="1"/>
<line x1="448.5" y1="893.0" x2="448.5" y2="916.8" stroke="#2a2a2a" stroke-width="1"/>
<line x1="438.8" y1="902.5" x2="450.0" y2="902.5" stroke="#2a2a2a" stroke-width="1"/>
<line x1="438.8" y1="909.5" x2="450.0" y2="909.5" stroke="#2a2a2a" stroke-width="1"/>
<rect x="290.5" y="184.0" width="1.4" height="1.2" fill="#2a2a2a"/>
<rect x="290.5" y="192.0" width="1.4" height="1.2" fill="#2a2a2a"/>
<rect x="275.5" y="218.0" width="1.4" height="1.2" fill="#2a2a2a"/>
<rect x="276.0" y="223.5" width="1.4" height="1.2" fill="#2a2a2a"/>
<rect x="127.0" y="892.5" width="1.4" height="1.2" fill="#2a2a2a"/>
<rect x="130.0" y="892.5" width="1.4" height="1.2" fill="#2a2a2a"/>
<rect x="1043.0" y="585.5" width="1.4" height="1.2" fill="#2a2a2a"/>
<rect x="692.0" y="739.5" width="1.4" height="1.2" fill="#2a2a2a"/>
<rect x="884.5" y="728.0" width="1.4" height="1.2" fill="#2a2a2a"/>
<rect x="888.0" y="728.0" width="1.4" height="1.2" fill="#2a2a2a"/>
<rect x="506.0" y="811.0" width="1.4" height="1.2" fill="#2a2a2a"/>
<rect x="509.5" y="811.0" width="1.4" height="1.2" fill="#2a2a2a"/>
<rect x="576.0" y="854.0" width="1.4" height="1.2" fill="#2a2a2a"/>
<line x1="1125.0" y1="462.4" x2="1133.6" y2="462.4" stroke="#2a2a2a" stroke-width="1.3"/>
<line x1="1190.6" y1="548.0" x2="1195.2" y2="842.0" stroke="#2a2a2a" stroke-width="1.2"/>
<rect x="1188.6" y="583.0" width="3.2" height="9.0" fill="#2a2a2a"/>
<rect x="1199.0" y="555.0" width="1.3" height="2.0" fill="#2a2a2a"/>
<rect x="1201.0" y="560.0" width="1.3" height="2.0" fill="#2a2a2a"/>
<rect x="1200.0" y="566.0" width="1.3" height="2.0" fill="#2a2a2a"/>
<rect x="1202.0" y="571.0" width="1.3" height="2.0" fill="#2a2a2a"/>
<rect x="1199.5" y="577.0" width="1.3" height="2.0" fill="#2a2a2a"/>
<rect x="1201.5" y="584.0" width="1.3" height="2.0" fill="#2a2a2a"/>
<rect x="1200.5" y="592.0" width="1.3" height="2.0" fill="#2a2a2a"/>
<line x1="873.0" y1="935.2" x2="1092.0" y2="932.8" stroke="#2a2a2a" stroke-width="1" stroke-dasharray="30 2 12 3"/>
<line x1="1091.2" y1="872.0" x2="1091.2" y2="933.0" stroke="#2a2a2a" stroke-width="1" stroke-dasharray="25 3"/>
<line x1="1128.0" y1="251.0" x2="1128.6" y2="380.0" stroke="#666" stroke-width="1" stroke-dasharray="20 6"/>
<line x1="520.0" y1="161.0" x2="822.0" y2="159.8" stroke="#2a2a2a" stroke-width="1" stroke-dasharray="60 4 25 3"/>
<line x1="499.3" y1="160.0" x2="499.3" y2="182.0" stroke="#2a2a2a" stroke-width="1" stroke-dasharray="9 3"/>
<line x1="119.0" y1="592.6" x2="200.0" y2="592.6" stroke="#2a2a2a" stroke-width="1.3" stroke-dasharray="8 3 2 4 3 6 2 9 12 1"/>
<line x1="120.0" y1="214.6" x2="190.0" y2="214.6" stroke="#555" stroke-width="1" stroke-dasharray="10 8 3 6"/>
<line x1="1062.0" y1="248.3" x2="1128.0" y2="248.3" stroke="#555" stroke-width="1" stroke-dasharray="12 5"/>
</g>
<text x="621" y="200" font-size="21.5" font-weight="normal" textLength="83" lengthAdjust="spacingAndGlyphs">Terrazzo</text>
<text x="308" y="381" font-size="21.5" font-weight="normal" textLength="68" lengthAdjust="spacingAndGlyphs">Salone</text>
<text x="593.3" y="371.8" font-size="21.5" font-weight="normal" textLength="67" lengthAdjust="spacingAndGlyphs">Cucina</text>
<text x="878" y="361.8" font-size="21.5" font-weight="normal" textLength="75.3" lengthAdjust="spacingAndGlyphs">Camera</text>
<text x="946.6" y="563.4" font-size="21.5" font-weight="normal" textLength="75.3" lengthAdjust="spacingAndGlyphs">Camera</text>
<text x="936.2" y="724" font-size="21.5" font-weight="normal" textLength="75.3" lengthAdjust="spacingAndGlyphs">Camera</text>
<text x="539.2" y="590" font-size="21.5" font-weight="normal" textLength="81.5" lengthAdjust="spacingAndGlyphs">Ingresso</text>
<text x="553.6" y="767" font-size="21.5" font-weight="normal" textLength="64" lengthAdjust="spacingAndGlyphs">Studio</text>
<text x="704.6" y="777.4" font-size="21.5" font-weight="normal" textLength="62" lengthAdjust="spacingAndGlyphs">Bagno</text>
<text x="811.8" y="759" font-size="21.5" font-weight="normal" textLength="33.5" lengthAdjust="spacingAndGlyphs">WC</text>
<text x="542.5" y="914.8" font-size="21.5" font-weight="normal" textLength="83" lengthAdjust="spacingAndGlyphs">Terrazzo</text>
<text x="943" y="907.3" font-size="21.5" font-weight="normal" textLength="83" lengthAdjust="spacingAndGlyphs">Terrazzo</text>
<text x="160" y="448" font-size="21.5" font-weight="normal" transform="rotate(-90 160 448)" textLength="83" lengthAdjust="spacingAndGlyphs">Terrazzo</text>
<text x="1089" y="315" font-size="21.5" font-weight="normal" transform="rotate(90 1089 315)" textLength="83" lengthAdjust="spacingAndGlyphs">Terrazzo</text>
<text x="1153.4" y="629.4" font-size="21.5" font-weight="normal" transform="rotate(90 1153.4 629.4)" textLength="83" lengthAdjust="spacingAndGlyphs">Terrazzo</text>
<text x="585.6" y="1044.9" font-size="27" font-weight="bold" textLength="162" lengthAdjust="spacingAndGlyphs">Piano primo</text>
<text x="1032.4" y="1013.5" font-size="20.1" font-weight="normal" textLength="166.5" lengthAdjust="spacingAndGlyphs">ORIENTAMENTO</text>
<circle cx="1117" cy="1067.9" r="45.7" fill="none" stroke="#222" stroke-width="1.5"/>
<ellipse cx="1116.9" cy="1068.1" rx="30.3" ry="31" fill="none" stroke="#222" stroke-width="1.5"/>
<line x1="1048.3" y1="1063.8" x2="1177.6" y2="1071.5" stroke="#222" stroke-width="1.6"/>
<polygon points="1048.3,1063.8 1068.3,1058.6 1065.4,1065.3 1069.8,1070.0" fill="#333"/>
<line x1="1100.3" y1="1062.3" x2="1130.0" y2="1064.5" stroke="#222" stroke-width="1.7"/>
<line x1="1100.3" y1="1072.0" x2="1127.8" y2="1073.4" stroke="#222" stroke-width="1.7"/>
<line x1="1122.6" y1="1057.9" x2="1109.2" y2="1078.4" stroke="#222" stroke-width="1.5"/>
</svg>
</body></html>
